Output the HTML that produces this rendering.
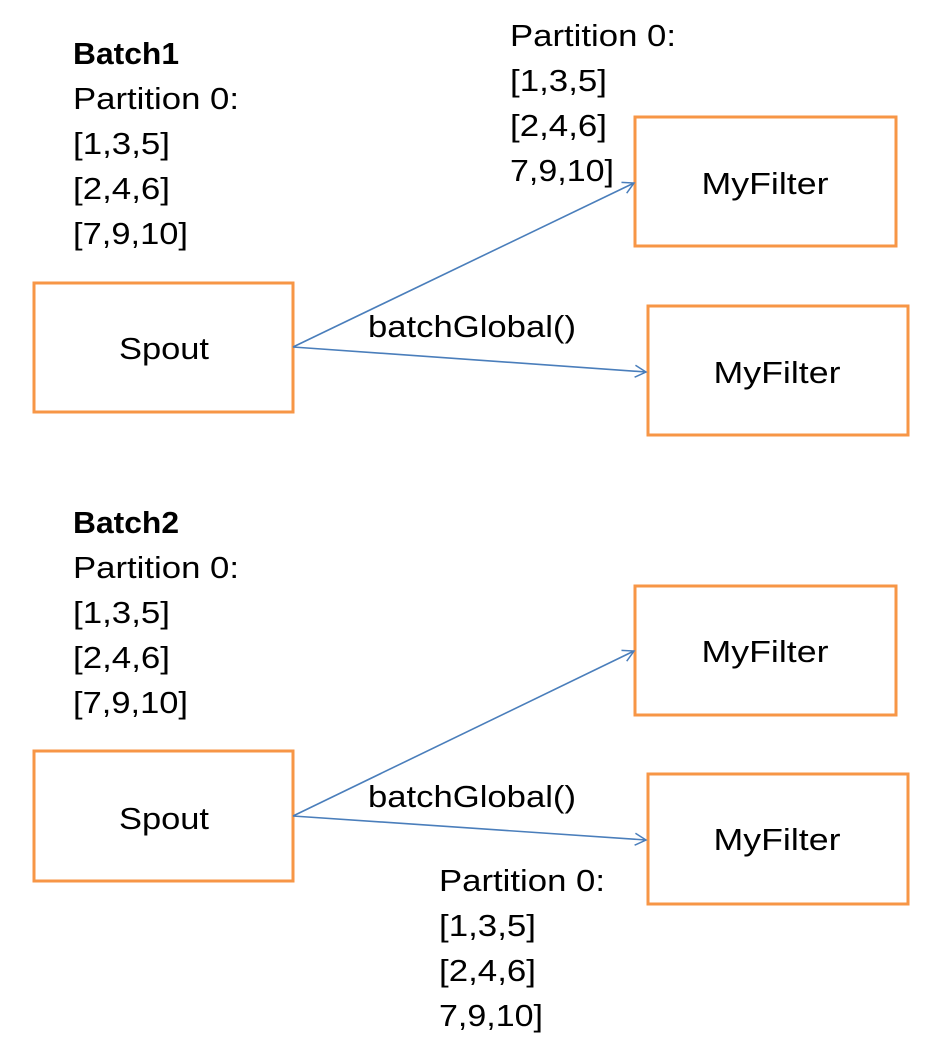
<!DOCTYPE html>
<html><head><style>
body{margin:0;background:#fff}
svg{display:block}
text{font-family:"Liberation Sans",sans-serif;font-size:31px;fill:#000}
</style></head><body>
<svg width="945" height="1050" viewBox="0 0 945 1050" xmlns="http://www.w3.org/2000/svg">
<defs>
<marker id="a" markerWidth="14" markerHeight="14" refX="12" refY="7" orient="auto" markerUnits="userSpaceOnUse">
<path d="M1,1 L12,7 L1,13" fill="none" stroke="#4a7ebb" stroke-width="1.5"/>
</marker>
</defs>
<g fill="none" stroke="#f79646" stroke-width="3">
<rect x="34" y="283" width="259" height="129"/>
<rect x="635" y="117" width="261" height="129"/>
<rect x="648" y="306" width="260" height="129"/>
<rect x="34" y="751" width="259" height="130"/>
<rect x="635" y="586" width="261" height="129"/>
<rect x="648" y="774" width="260" height="130"/>
</g>
<g stroke="#4a7ebb" stroke-width="1.6" marker-end="url(#a)">
<line x1="293" y1="347" x2="634" y2="183"/>
<line x1="293" y1="347" x2="646" y2="372"/>
<line x1="293" y1="816" x2="634" y2="651"/>
<line x1="293" y1="816" x2="646" y2="840"/>
</g>
<g text-anchor="middle">
<text x="164" y="359" textLength="90" lengthAdjust="spacingAndGlyphs">Spout</text>
<text x="765" y="194" textLength="127" lengthAdjust="spacingAndGlyphs">MyFilter</text>
<text x="777" y="383" textLength="127" lengthAdjust="spacingAndGlyphs">MyFilter</text>
<text x="164" y="829" textLength="90" lengthAdjust="spacingAndGlyphs">Spout</text>
<text x="765" y="662" textLength="127" lengthAdjust="spacingAndGlyphs">MyFilter</text>
<text x="777" y="850" textLength="127" lengthAdjust="spacingAndGlyphs">MyFilter</text>
</g>
<text x="73" y="64" font-weight="bold" textLength="106" lengthAdjust="spacingAndGlyphs">Batch1</text>
<text x="73" y="109" textLength="166" lengthAdjust="spacingAndGlyphs">Partition 0:</text>
<text x="73" y="154" textLength="97" lengthAdjust="spacingAndGlyphs">[1,3,5]</text>
<text x="73" y="199" textLength="97" lengthAdjust="spacingAndGlyphs">[2,4,6]</text>
<text x="73" y="244" textLength="115" lengthAdjust="spacingAndGlyphs">[7,9,10]</text>
<text x="510" y="46" textLength="166" lengthAdjust="spacingAndGlyphs">Partition 0:</text>
<text x="510" y="91" textLength="97" lengthAdjust="spacingAndGlyphs">[1,3,5]</text>
<text x="510" y="136" textLength="97" lengthAdjust="spacingAndGlyphs">[2,4,6]</text>
<text x="510" y="181" textLength="104" lengthAdjust="spacingAndGlyphs">7,9,10]</text>
<text x="368" y="337" textLength="208" lengthAdjust="spacingAndGlyphs">batchGlobal()</text>
<text x="73" y="533" font-weight="bold" textLength="106" lengthAdjust="spacingAndGlyphs">Batch2</text>
<text x="73" y="578" textLength="166" lengthAdjust="spacingAndGlyphs">Partition 0:</text>
<text x="73" y="623" textLength="97" lengthAdjust="spacingAndGlyphs">[1,3,5]</text>
<text x="73" y="668" textLength="97" lengthAdjust="spacingAndGlyphs">[2,4,6]</text>
<text x="73" y="713" textLength="115" lengthAdjust="spacingAndGlyphs">[7,9,10]</text>
<text x="368" y="807" textLength="208" lengthAdjust="spacingAndGlyphs">batchGlobal()</text>
<text x="439" y="891" textLength="166" lengthAdjust="spacingAndGlyphs">Partition 0:</text>
<text x="439" y="936" textLength="97" lengthAdjust="spacingAndGlyphs">[1,3,5]</text>
<text x="439" y="981" textLength="97" lengthAdjust="spacingAndGlyphs">[2,4,6]</text>
<text x="439" y="1026" textLength="104" lengthAdjust="spacingAndGlyphs">7,9,10]</text>
</svg>
</body></html>
